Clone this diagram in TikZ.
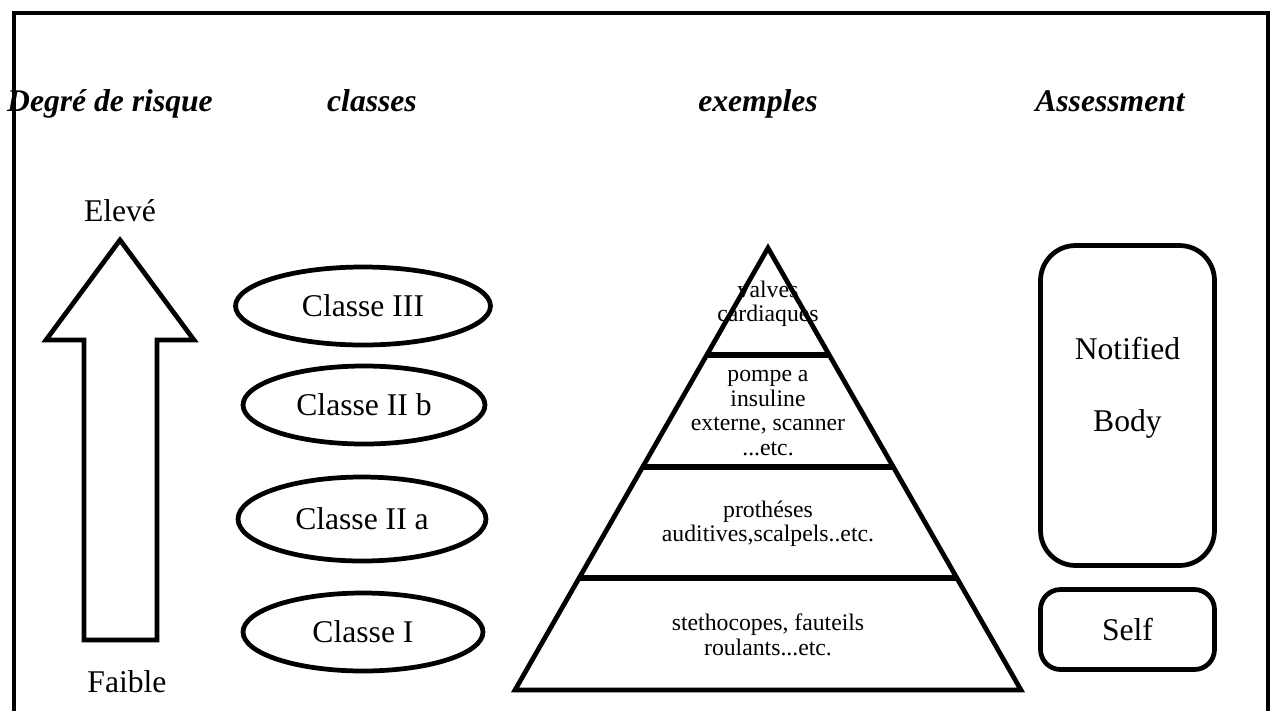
\documentclass[tikz,border=0pt]{standalone}
\usepackage{fontspec}
\setmainfont{Liberation Serif}
\usetikzlibrary{shapes.geometric, calc}

\begin{document}
\begin{tikzpicture}[
  x=0.02cm, y=-0.02cm,
  thickline/.style={line width=2.7pt, line join=miter},
  head/.style={font=\fontsize{18}{21}\selectfont\bfseries\itshape, inner sep=0pt,
               anchor=base},
  lbl/.style={font=\fontsize{18}{21}\selectfont, inner sep=0pt, align=center},
  small/.style={font=\fontsize{13.5}{13.9}\selectfont, inner sep=0pt, align=center},
  cls/.style={draw, ellipse, thickline, minimum height=1.56cm, inner sep=0pt,
              font=\fontsize{18}{21}\selectfont},
  assess/.style={draw, thickline, minimum width=3.48cm, inner sep=0pt,
                 font=\fontsize{18}{21}\selectfont}
]

%
%  Layout (px, y down):
%
%  row  110 :  Degre de risque   classes    exemples    Assessment
%  row  ~400:  [arrow]           (ellipses) /pyramid\   [boxes]
%
%  col:  120               363        768         1127

\useasboundingbox (0,0) rectangle (1272,711);

% --- frame (open at the bottom) ---
\draw[thickline] (14,711) -- (14,13) -- (1268,13) -- (1268,711);

% --- headers ---
\node[head] (h_risk)   at (110, 111)  {Degré de risque};
\node[head] (h_cls)    at (372, 111)  {classes};
\node[head] (h_ex)     at (758, 111)  {exemples};
\node[head] (h_assess) at (1110, 111) {Assessment};

% --- risk arrow ---
\node[lbl] (high) at (120, 211) {Elevé};
\node[lbl] (low)  at (127, 682) {Faible};
\draw[thickline] (120,240) -- (194,340) -- (157,340) -- (157,640)
                 -- (84,640) -- (84,340) -- (46,340) -- cycle;

% --- classes ---
\node[cls, minimum width=5.1cm]  (c3)  at (363, 306) {Classe III};
\node[cls, minimum width=4.84cm] (c2b) at (364, 405) {Classe II b};
\node[cls, minimum width=4.96cm, minimum height=1.68cm]
      (c2a) at (362, 519) {Classe II a};
\node[cls, minimum width=4.8cm]  (c1)  at (363, 632) {Classe I};

% --- pyramid ---
\coordinate (apex) at (768, 248);
\coordinate (bl)   at (515, 690);
\coordinate (br)   at (1021, 690);

\node[small] (ex3)  at (768, 304) {valves\\cardiaques};
\node[small] (ex2b) at (768, 413) {pompe a\\insuline\\externe, scanner\\...etc.};
\node[small] (ex2a) at (768, 524) {prothéses\\auditives,scalpels..etc.};
\node[small] (ex1)  at (768, 635) {stethocopes, fauteils\\roulants...etc.};

\draw[thickline] (apex) -- (bl) -- (br) -- cycle;
\foreach \t in {0.242, 0.4955, 0.7466}
  \draw[line width=3.2pt] ($(apex)!\t!(bl)$) -- ($(apex)!\t!(br)$);

% --- assessment ---
\node[assess, minimum height=6.4cm, rounded corners=0.7cm]
      (notified) at (1127.5, 405.5) {};
\node[lbl] (nb_txt) at (1127.5, 388) {Notified\\[20pt]Body};
\node[assess, minimum height=1.6cm, rounded corners=0.4cm]
      (self) at (1127.5, 629.5) {Self};

\end{tikzpicture}
\end{document}
